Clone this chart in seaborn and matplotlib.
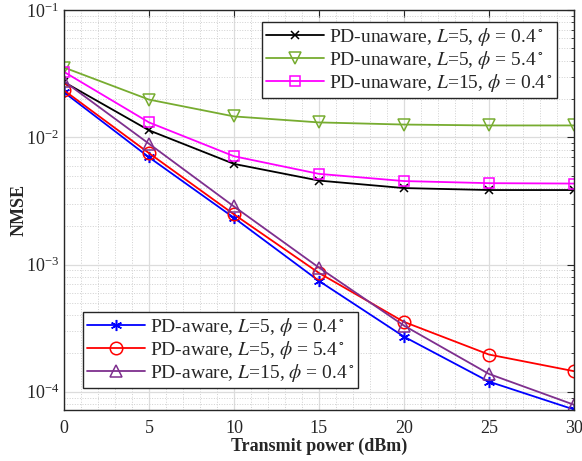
import numpy as np
import pandas as pd
import matplotlib
matplotlib.use("Agg")
import matplotlib.pyplot as plt
import seaborn as sns
from matplotlib.ticker import LogLocator, MultipleLocator, NullFormatter

power = [0, 5, 10, 15, 20, 25, 30]

unaware_L5_p04 = [0.0272, 0.01135, 0.00618, 0.00457, 0.00399, 0.00385, 0.00385]
unaware_L5_p54 = [0.0354, 0.0198, 0.0146, 0.0131, 0.0126, 0.0124, 0.0124]
unaware_L15_p04 = [0.0327, 0.0131, 0.0071, 0.00516, 0.00453, 0.00436, 0.00433]
aware_L5_p04 = [0.0226, 0.00697, 0.00233, 0.000743, 0.000271, 0.000120, 0.0000725]
aware_L5_p54 = [0.0234, 0.00751, 0.00248, 0.000858, 0.000354, 0.000196, 0.000145]
aware_L15_p04 = [0.0276, 0.0089, 0.00286, 0.000946, 0.000331, 0.000138, 0.0000790]

labels_unaware = [r"PD-unaware, $L$=5, $\phi$ = 0.4$^\circ$",
                  r"PD-unaware, $L$=5, $\phi$ = 5.4$^\circ$",
                  r"PD-unaware, $L$=15, $\phi$ = 0.4$^\circ$"]
labels_aware = [r"PD-aware, $L$=5, $\phi$ = 0.4$^\circ$",
                r"PD-aware, $L$=5, $\phi$ = 5.4$^\circ$",
                r"PD-aware, $L$=15, $\phi$ = 0.4$^\circ$"]

sns.set_style("white")
plt.rcParams['font.family'] = ['Liberation Serif', 'DejaVu Serif']
plt.rcParams['mathtext.fontset'] = 'stix'

fig = plt.figure(figsize=(5.82, 4.61), dpi=100)
ax = fig.add_axes([0.110, 0.111, 0.876, 0.867])

series = [
    (unaware_L5_p04, labels_unaware[0], 'black', 'x', 'black', 6),
    (unaware_L5_p54, labels_unaware[1], '#77AC30', 'v', 'none', 9),
    (unaware_L15_p04, labels_unaware[2], '#FF00FF', 's', 'none', 7),
    (aware_L5_p04, labels_aware[0], '#0000FF', (6, 2, 0), '#0000FF', 8),
    (aware_L5_p54, labels_aware[1], '#FF0000', 'o', 'none', 9),
    (aware_L15_p04, labels_aware[2], '#7E2F8E', '^', 'none', 9),
]

handles = []
for vals, lab, col, mk, mfc, ms in series:
    df = pd.DataFrame({"power": power, "nmse": vals})
    sns.lineplot(data=df, x="power", y="nmse", ax=ax, color=col, marker=mk,
                 markersize=ms, markerfacecolor=mfc, markeredgecolor=col,
                 markeredgewidth=1.1, linewidth=1.3, label=lab, legend=False)
    handles.append(ax.get_lines()[-1])

ax.set_yscale('log')
ax.set_xlim(0, 30)
ax.set_ylim(7.2e-5, 1e-1)
ax.xaxis.set_major_locator(MultipleLocator(5))
ax.xaxis.set_minor_locator(MultipleLocator(1))
ax.yaxis.set_major_locator(LogLocator(base=10, numticks=10))
ax.yaxis.set_minor_locator(LogLocator(base=10, subs=np.arange(2, 10), numticks=20))
ax.yaxis.set_minor_formatter(NullFormatter())

ax.grid(True, which='major', color='#dcdcdc', linewidth=0.9, linestyle='-')
ax.grid(True, which='minor', color='#d0d0d0', linewidth=0.7, linestyle=':')
ax.set_axisbelow(True)

for sp in ax.spines.values():
    sp.set_visible(True)
    sp.set_color('#262626')
    sp.set_linewidth(1.0)

ax.tick_params(which='both', direction='in', top=True, right=True,
               colors='#262626', labelsize=13)
ax.tick_params(which='major', length=5, width=0.8)
ax.tick_params(which='minor', length=2.5, width=0.6)
ax.tick_params(axis='x', which='minor', length=0)
ax.tick_params(axis='x', pad=7)

ax.set_xlabel("Transmit power (dBm)", fontsize=13, fontweight='bold', color='#262626')
ax.set_ylabel("NMSE", fontsize=13, fontweight='bold', color='#262626')
ax.xaxis.set_label_coords(0.5, -0.07)
ax.yaxis.set_label_coords(-0.072, 0.5)

leg_kw = dict(fontsize=14, frameon=True, fancybox=False, framealpha=1,
              edgecolor='#262626', handlelength=3.0, borderpad=0.2,
              labelspacing=0.05, handletextpad=0.25, borderaxespad=0)
leg1 = ax.legend(handles[:3], labels_unaware, loc='upper right',
                 bbox_to_anchor=(0.967, 0.97), **leg_kw)
leg1.get_frame().set_linewidth(1.0)
ax.add_artist(leg1)
leg2 = ax.legend(handles[3:], labels_aware, loc='lower left',
                 bbox_to_anchor=(0.037, 0.055), **leg_kw)
leg2.get_frame().set_linewidth(1.0)

fig.savefig("out.png", dpi=100)
